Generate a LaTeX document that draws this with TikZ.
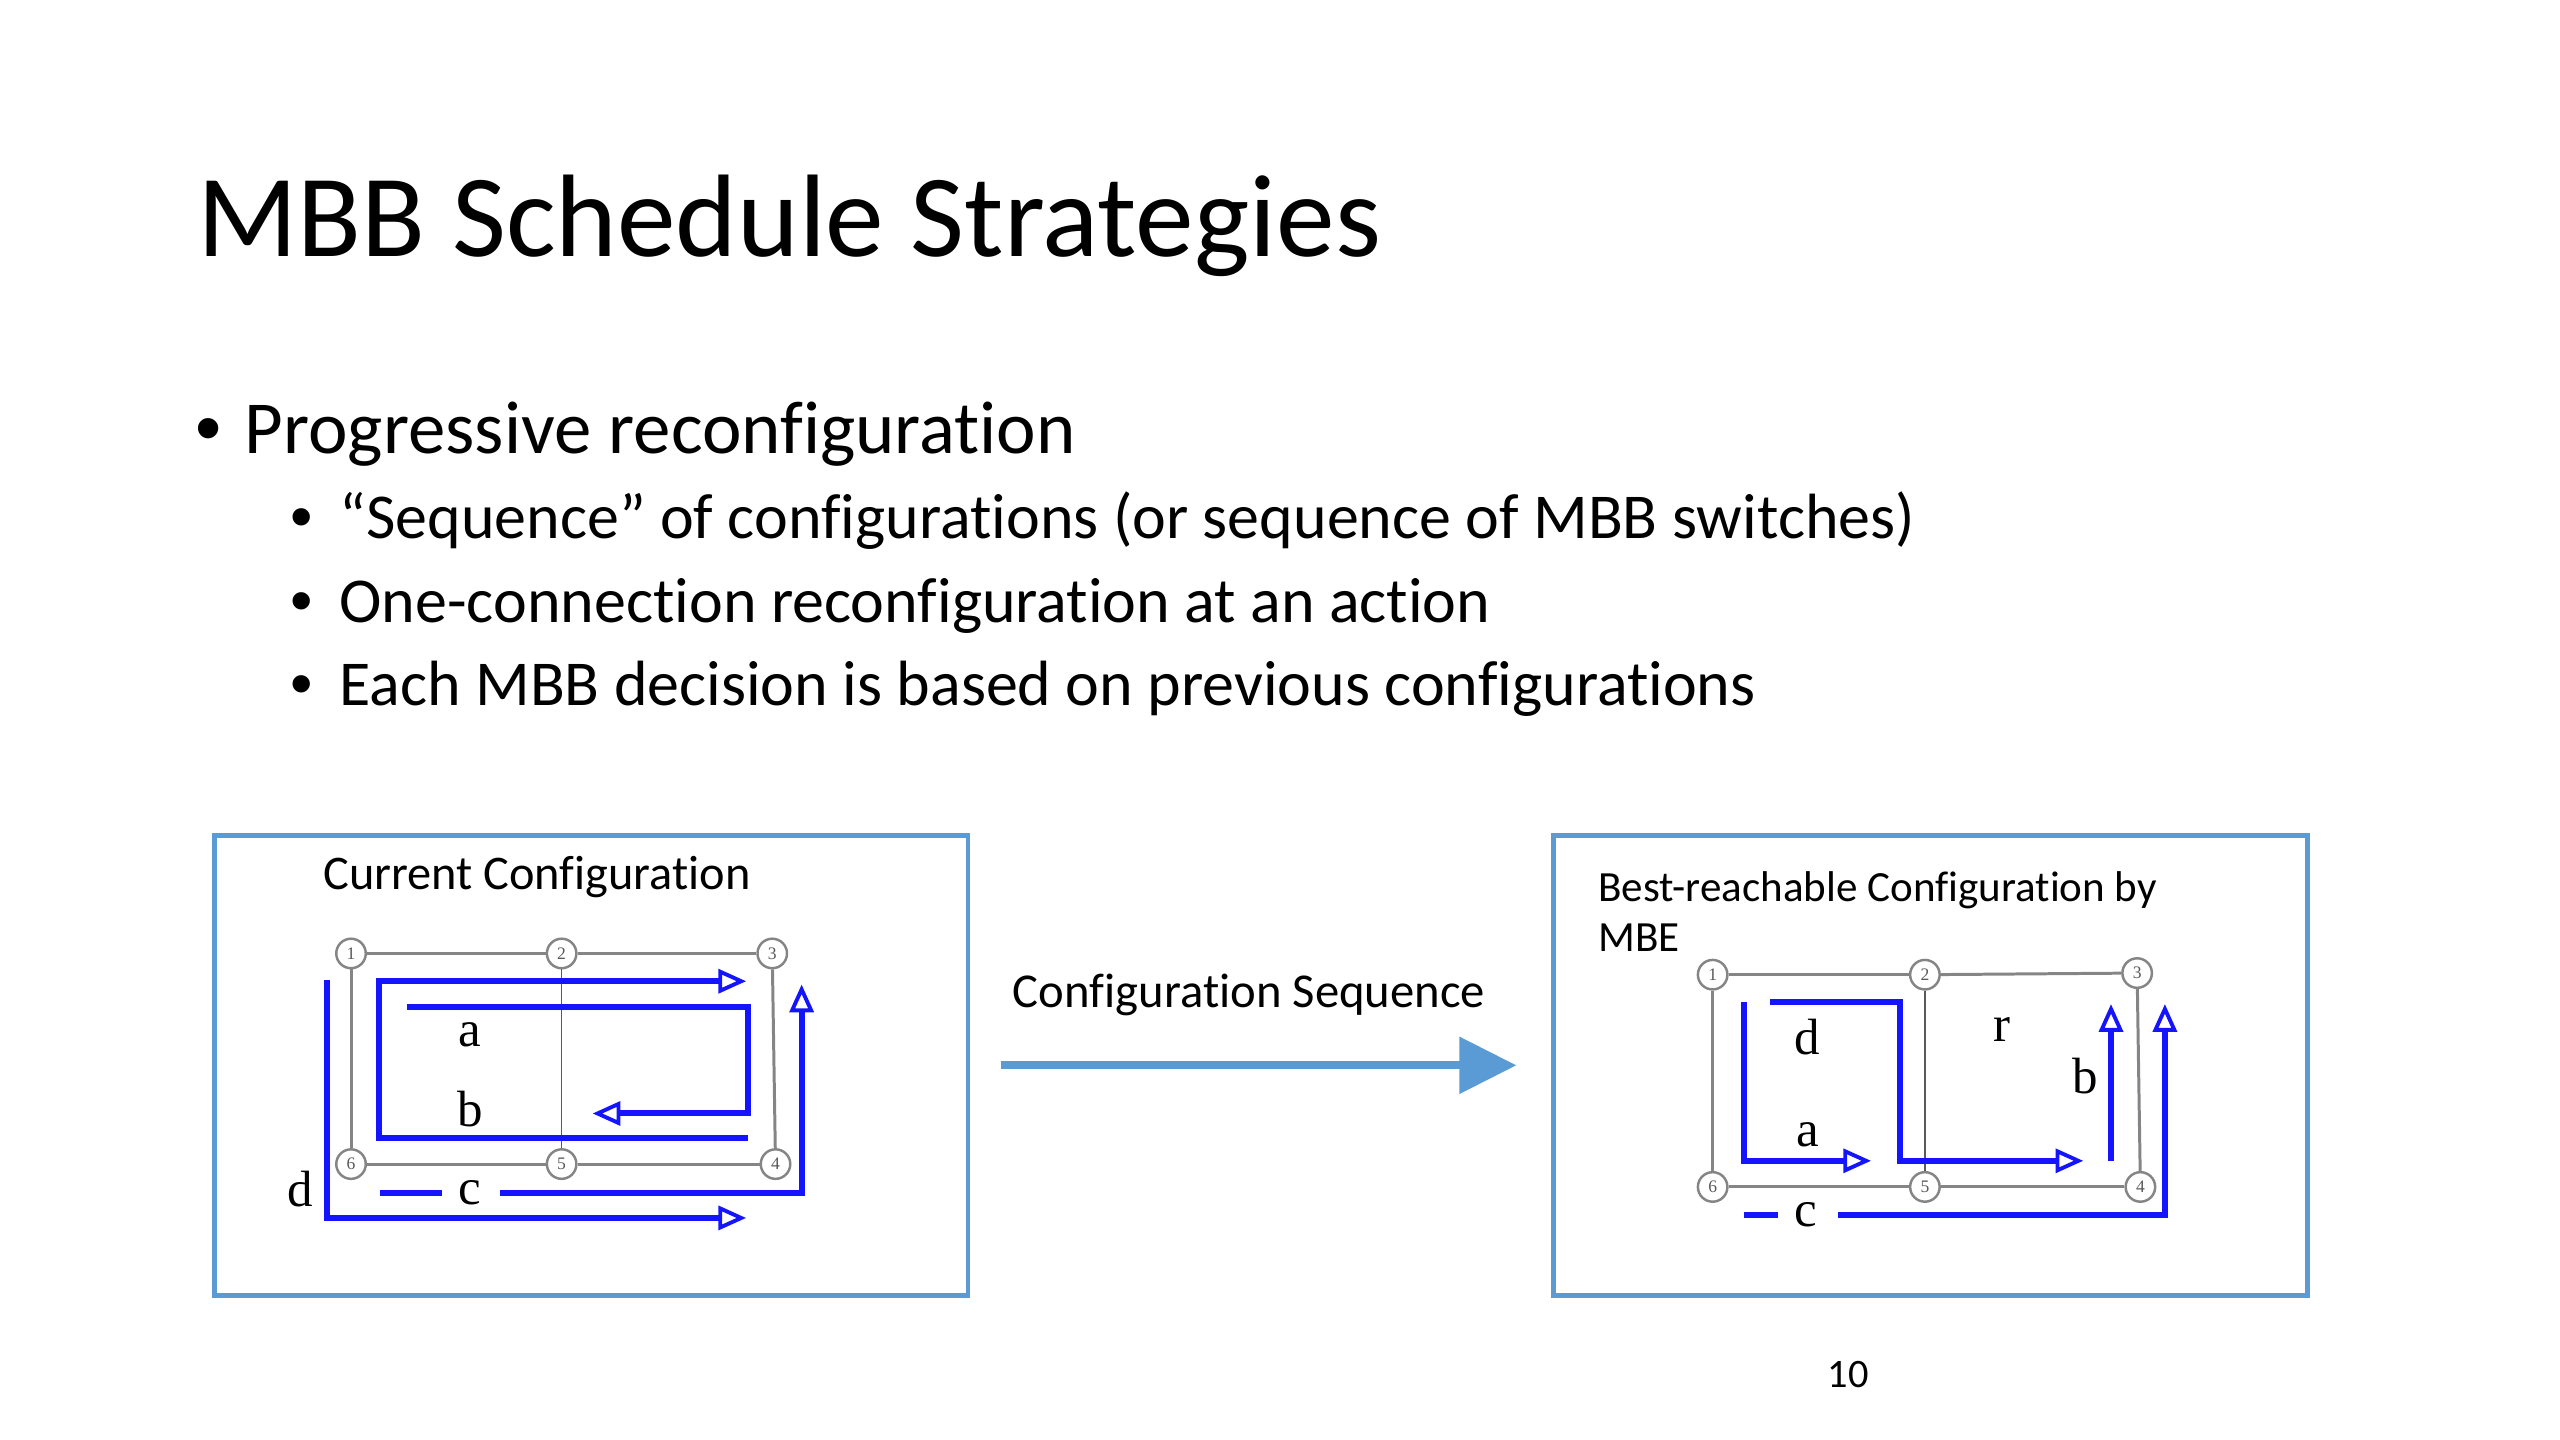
\documentclass[tikz,border=0pt]{standalone}
\usepackage{fontspec}
\setmainfont{Carlito}[Ligatures=NoCommon]
\newfontfamily\serifl{Liberation Serif}
\newfontfamily\bulletfont{Liberation Sans}
\usetikzlibrary{arrows.meta}
\definecolor{boxblue}{HTML}{5B9BD5}
\definecolor{pathblue}{HTML}{1414FF}
\definecolor{edgegray}{HTML}{858585}
\begin{document}
\begin{tikzpicture}[x=0.0163265cm,y=-0.0163265cm,
  txt/.style={inner sep=0pt,outer sep=0pt,anchor=base west},
  bul/.style={inner sep=0pt,outer sep=0pt,anchor=base},
  panel/.style={draw=boxblue,line width=1.4pt,inner sep=0pt,outer sep=0pt,minimum width=214.5pt,minimum height=131pt},
  sw/.style={circle,draw=edgegray,fill=white,line width=0.7pt,minimum size=8.4pt,inner sep=0pt,text=black!65,font=\fontsize{5}{5}\selectfont\serifl},
  link/.style={draw=edgegray,line width=0.85pt},
  midlink/.style={draw=black!65,line width=0.45pt},
  cpath/.style={draw=pathblue,line width=1.7pt},
  carrow/.style={cpath,-{Triangle[open,length=7.9pt,width=6.8pt,line width=1.1pt]}},
  lab/.style={inner sep=0pt,anchor=base,font=\fontsize{14.5}{14.5}\selectfont\serifl},
  bigarrow/.style={draw=boxblue,line width=2.3pt,-{Triangle[length=16.2pt,width=15.7pt,fill=boxblue]}}
]
\useasboundingbox (0,0) rectangle (1568,882);

% Title and bullets
\node[txt,font=\fontsize{33.4}{40}\selectfont] (title) at (121,157) {MBB Schedule Strategies};
\node[bul,font=\fontsize{21.3}{25}\selectfont\bulletfont] (b1) at (127.6,278) {•};
\node[txt,font=\fontsize{21.3}{25}\selectfont] (t1) at (150,278) {Progressive reconfiguration};
\node[bul,font=\fontsize{18.2}{22}\selectfont\bulletfont] (b2) at (184.8,330) {•};
\node[txt,font=\fontsize{18.2}{22}\selectfont] (t2) at (208,330) {“Sequence” of configurations (or sequence of MBB switches)};
\node[bul,font=\fontsize{18.2}{22}\selectfont\bulletfont] (b3) at (184.8,381) {•};
\node[txt,font=\fontsize{18.2}{22}\selectfont] (t3) at (208,381) {One-connection reconfiguration at an action};
\node[bul,font=\fontsize{18.2}{22}\selectfont\bulletfont] (b4) at (184.8,432) {•};
\node[txt,font=\fontsize{18.2}{22}\selectfont] (t4) at (208,432) {Each MBB decision is based on previous configurations};

% Panels
\node[panel] (boxL) at (362,652.5) {};
\node[panel] (boxR) at (1182.5,652.5) {};
\node[txt,font=\fontsize{13.75}{16}\selectfont] (capL) at (198,545) {Current Configuration};
\node[txt,font=\fontsize{12.25}{14}\selectfont] (capR1) at (979,552) {Best-reachable Configuration by};
\node[txt,font=\fontsize{12.25}{14}\selectfont] (capR2) at (979,583) {MBE};

% Big arrow
\node[inner sep=0pt,anchor=base,font=\fontsize{13.85}{16}\selectfont] (seq) at (765,617) {Configuration Sequence};
\draw[bigarrow] ([xshift=9.26pt]boxL.east) -- ([xshift=-10.6pt]boxR.west);

% Page number
\node[inner sep=0pt,anchor=base,font=\fontsize{11.5}{13}\selectfont] (pg) at (1132,850) {10};

% ---------- Left network ----------
\node[sw] (L1) at (215,584) {1};
\node[sw] (L2) at (344,584) {2};
\node[sw] (L3) at (473,584) {3};
\node[sw] (L4) at (475,713) {4};
\node[sw] (L5) at (344,713) {5};
\node[sw] (L6) at (215,713) {6};
\draw[link] (L1) -- (L2); \draw[link] (L2) -- (L3); \draw[link] (L3) -- (L4);
\draw[link] (L4) -- (L5); \draw[link] (L5) -- (L6); \draw[link] (L6) -- (L1);
\draw[midlink] (L2) -- (L5);
\draw[carrow] (458,697) -- (232,697) -- (232,601) -- (457,601);
\draw[carrow] (249,617) -- (458,617) -- (458,682) -- (363,682);
\draw[cpath] (233,731) -- (271,731);
\draw[carrow] (306,731) -- (491,731) -- (491,603);
\draw[carrow] (200,600) -- (200,746) -- (457,746);
\node[lab] (la) at (288,641) {a};
\node[lab] (lb) at (288,690) {b};
\node[lab] (lc) at (288,738) {c};
\node[lab] (ld) at (184,739) {d};

% ---------- Right network ----------
\node[sw] (R1) at (1049,597) {1};
\node[sw] (R2) at (1179,597) {2};
\node[sw] (R3) at (1309,596) {3};
\node[sw] (R4) at (1311,727) {4};
\node[sw] (R5) at (1179,727) {5};
\node[sw] (R6) at (1049,727) {6};
\draw[link] (R1) -- (R2); \draw[link] (R2) -- (R3); \draw[link] (R3) -- (R4);
\draw[link] (R4) -- (R5); \draw[link] (R5) -- (R6); \draw[link] (R6) -- (R1);
\draw[midlink] (R2) -- (R5);
\draw[carrow] (1068,614) -- (1068,711) -- (1146,711);
\draw[carrow] (1084,614) -- (1164,614) -- (1164,711) -- (1276,711);
\draw[carrow] (1293,711) -- (1293,615);
\draw[cpath] (1068,744) -- (1089,744);
\draw[carrow] (1126,744) -- (1326,744) -- (1326,615);
\node[lab] (ra) at (1107,702) {a};
\node[lab] (rd) at (1107,646) {d};
\node[lab] (rr) at (1226,638) {r};
\node[lab] (rb) at (1277,670) {b};
\node[lab] (rc) at (1106,751) {c};
\end{tikzpicture}
\end{document}
